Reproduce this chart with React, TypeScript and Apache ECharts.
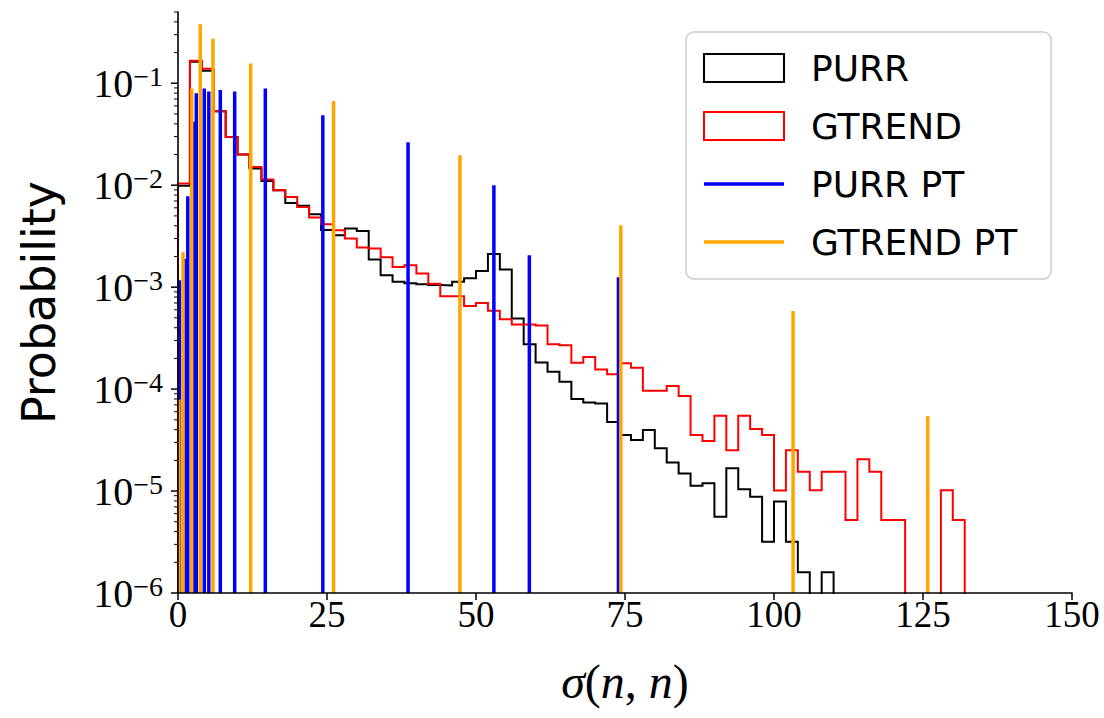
import React, { useEffect, useRef } from "react";
import * as echarts from "echarts";

// Histogram bins are 2 wide, starting at 0.
const BIN_WIDTH = 2;
const Y_MIN = 1e-6;
const Y_MAX = 0.5;
// Empty bins (and the foot of each vertical line) are drawn down to here, below the visible range.
const FLOOR = 1e-7;

const purrHist = [
  0.0099, 0.163, 0.133, 0.0531, 0.0297, 0.02, 0.0146, 0.011, 0.0089, 0.0067,
  0.0063, 0.0052, 0.00364, 0.00323, 0.00376, 0.00355, 0.00187, 0.00131, 0.00113, 0.00109,
  0.00107, 0.00105, 0.00104, 0.00113, 0.00122, 0.00144, 0.00211, 0.00149, 0.000493, 0.000276,
  0.000182, 0.000148, 0.000118, 0.0000798, 0.000074, 0.0000724, 0.0000475, 0.0000354, 0.0000316, 0.0000396,
  0.0000263, 0.0000191, 0.0000149, 0.0000113, 0.0000119, 0.0000056, 0.0000167, 0.0000104, 0.0000088, 0.00000318,
  0.0000079, 0.00000318, 0.0000016, 0, 0.0000016,
];

const gtrendHist = [
  0.0104, 0.166, 0.139, 0.0531, 0.0297, 0.02, 0.0151, 0.0114, 0.0089, 0.00767,
  0.00613, 0.00482, 0.00415, 0.00362, 0.003, 0.00245, 0.0024, 0.00196, 0.00158, 0.00164,
  0.00136, 0.00108, 0.000816, 0.000816, 0.000652, 0.0007, 0.000586, 0.000485, 0.00043, 0.00043,
  0.00042, 0.000276, 0.00027, 0.000181, 0.000207, 0.000156, 0.00014, 0.000179, 0.000162, 0.0000962,
  0.0000962, 0.000107, 0.0000855, 0.0000354, 0.0000309, 0.0000547, 0.0000252, 0.0000547, 0.0000405, 0.0000354,
  0.0000101, 0.0000252, 0.0000155, 0.0000102, 0.0000155, 0.0000155, 0.0000052, 0.0000205, 0.0000155, 0.0000052,
  0.0000052, 0, 0, 0, 0.0000102, 0.0000052,
];

const purrPtX = [0.25, 1.22, 1.64, 2.65, 3.07, 4.41, 5.17, 7.1, 9.51, 14.65, 24.3, 38.6, 53.0, 58.95, 73.9];
const purrPtP = [0.00117, 0.0019, 0.0078, 0.042, 0.08, 0.089, 0.083, 0.086, 0.083, 0.089, 0.0485, 0.0264, 0.01, 0.00206, 0.00125];

const gtrendPtX = [0.15, 0.85, 2.3, 3.74, 5.87, 12.2, 26.1, 47.3, 74.3, 103.2, 125.8];
const gtrendPtP = [0.000079, 0.0022, 0.0887, 0.379, 0.274, 0.156, 0.067, 0.0197, 0.00405, 0.000582, 0.0000543];

const X_MIN = 0;
const X_MAX = 150;
const X_INTERVAL = 25;

const BLACK = "#000000";
const RED = "#ff0000";
const BLUE = "#0000ff";
const ORANGE = "#ffa500";

const SERIF = "Liberation Serif";
const SANS = "DejaVu Sans";

// Outline of a step histogram: up from the floor, across each bin, back down.
function stepOutline(values: number[]): number[][] {
  const pts: number[][] = [[0, FLOOR]];
  values.forEach((v, i) => {
    const y = v > 0 ? v : FLOOR;
    pts.push([i * BIN_WIDTH, y], [(i + 1) * BIN_WIDTH, y]);
  });
  pts.push([values.length * BIN_WIDTH, FLOOR]);
  return pts;
}

// Major and minor tick positions for the log axis (1..9 per decade).
function logTicks(): number[][] {
  const out: number[][] = [];
  for (let e = -6; e <= -1; e++) {
    for (let m = 1; m <= 9; m++) {
      const v = m * Math.pow(10, e);
      if (v <= Y_MAX * 1.0001) out.push([0, v, m === 1 ? 1 : 0]);
    }
  }
  return out;
}

function vlineSeries(name: string, xs: number[], ps: number[], color: string, z: number) {
  return {
    name,
    type: "custom",
    z,
    clip: true,
    silent: true,
    itemStyle: { color },
    data: xs.map((x, i) => [x, ps[i]]),
    renderItem: (_params: any, api: any) => {
      const top = api.coord([api.value(0), api.value(1)]);
      const base = api.coord([api.value(0), FLOOR]);
      return {
        type: "line",
        shape: { x1: top[0], y1: base[1], x2: top[0], y2: top[1] },
        style: { stroke: color, lineWidth: 3.5 },
      };
    },
  };
}

// Legend glyph: a short thick horizontal bar in the middle of an 80x28 box.
const BAR_ICON = "path://M0,0L0.01,0M0,12.25L80,12.25L80,15.75L0,15.75ZM0,28L0.01,28";

export default function App() {
  const ref = useRef<HTMLDivElement>(null);

  useEffect(() => {
    if (!ref.current) return;
    const chart = echarts.init(ref.current, undefined, { renderer: "svg" });

    const option: any = {
      animation: false,
      backgroundColor: "#ffffff",
      grid: { left: 178, right: 32, top: 12, bottom: 125, containLabel: false, outerBoundsMode: "none" },
      xAxis: {
        type: "value",
        min: X_MIN,
        max: X_MAX,
        interval: X_INTERVAL,
        z: 5,
        axisLine: { show: true, onZero: false, lineStyle: { color: BLACK, width: 1.6 } },
        axisTick: { show: true, length: 7, lineStyle: { color: BLACK, width: 1.5 } },
        splitLine: { show: false },
        axisLabel: { color: BLACK, fontFamily: SERIF, fontSize: 37, margin: 3 },
        name: "{i|σ}{r|(}{i|n}{r|, }{i|n}{r|)}",
        nameLocation: "middle",
        nameGap: 64,
        nameTextStyle: {
          color: BLACK,
          rich: {
            i: { fontFamily: SERIF, fontStyle: "italic", fontSize: 48, color: BLACK },
            r: { fontFamily: SERIF, fontSize: 48, color: BLACK },
          },
        },
      },
      yAxis: {
        type: "log",
        logBase: 10,
        min: Y_MIN,
        max: Y_MAX,
        z: 5,
        axisLine: { show: true, onZero: false, lineStyle: { color: BLACK, width: 1.6 } },
        axisTick: { show: false },
        splitLine: { show: false },
        axisLabel: {
          margin: 15,
          formatter: (v: number) => {
            const l = Math.log10(v);
            const e = Math.round(l);
            if (Math.abs(l - e) > 1e-6) return "";
            return "{b|10}{s|" + (e < 0 ? "\u2212" : "") + Math.abs(e) + "}";
          },
          rich: {
            b: { fontFamily: SERIF, fontSize: 40, lineHeight: 42, color: BLACK },
            s: { fontFamily: SERIF, fontSize: 28, lineHeight: 18, verticalAlign: "top", color: BLACK },
          },
        },
        name: "Probability",
        nameLocation: "middle",
        nameGap: 116,
        nameTextStyle: { color: BLACK, fontFamily: SANS, fontSize: 46 },
      },
      legend: {
        orient: "vertical",
        left: 686,
        top: 32,
        padding: [18, 34, 19, 17],
        itemWidth: 80,
        itemHeight: 28,
        itemGap: 22,
        selectedMode: false,
        backgroundColor: "rgba(255,255,255,0.8)",
        borderColor: "#cccccc",
        borderWidth: 1.5,
        borderRadius: 8,
        z: 10,
        textStyle: { color: BLACK, fontFamily: SANS, fontSize: 36, padding: [0, 0, 0, 22] },
        data: [
          { name: "PURR", icon: "rect", itemStyle: { color: "rgba(0,0,0,0)", borderColor: BLACK, borderWidth: 2 } },
          { name: "GTREND", icon: "rect", itemStyle: { color: "rgba(0,0,0,0)", borderColor: RED, borderWidth: 2 } },
          { name: "PURR PT", icon: BAR_ICON, itemStyle: { color: BLUE, borderWidth: 0 } },
          { name: "GTREND PT", icon: BAR_ICON, itemStyle: { color: ORANGE, borderWidth: 0 } },
        ],
      },
      series: [
        {
          name: "PURR",
          type: "line",
          z: 2,
          symbol: "none",
          showSymbol: false,
          silent: true,
          data: stepOutline(purrHist),
          lineStyle: { color: BLACK, width: 2, join: "miter" },
          itemStyle: { color: BLACK },
        },
        {
          name: "GTREND",
          type: "line",
          z: 2,
          symbol: "none",
          showSymbol: false,
          silent: true,
          data: stepOutline(gtrendHist),
          lineStyle: { color: RED, width: 2, join: "miter" },
          itemStyle: { color: RED },
        },
        vlineSeries("PURR PT", purrPtX, purrPtP, BLUE, 3),
        vlineSeries("GTREND PT", gtrendPtX, gtrendPtP, ORANGE, 4),
        {
          name: "yTicks",
          type: "custom",
          z: 6,
          clip: false,
          silent: true,
          data: logTicks(),
          renderItem: (_params: any, api: any) => {
            const p = api.coord([0, api.value(1)]);
            const major = api.value(2) === 1;
            const len = major ? 7 : 4;
            return {
              type: "line",
              shape: { x1: p[0] - len, y1: p[1], x2: p[0], y2: p[1] },
              style: { stroke: BLACK, lineWidth: major ? 1.5 : 1 },
            };
          },
        },
      ],
    };

    chart.setOption(option);
    return () => chart.dispose();
  }, []);

  return (
    <div
      ref={ref}
      style={{ position: "absolute", left: 0, top: 0, width: 1104, height: 718, background: "#fff" }}
    />
  );
}
